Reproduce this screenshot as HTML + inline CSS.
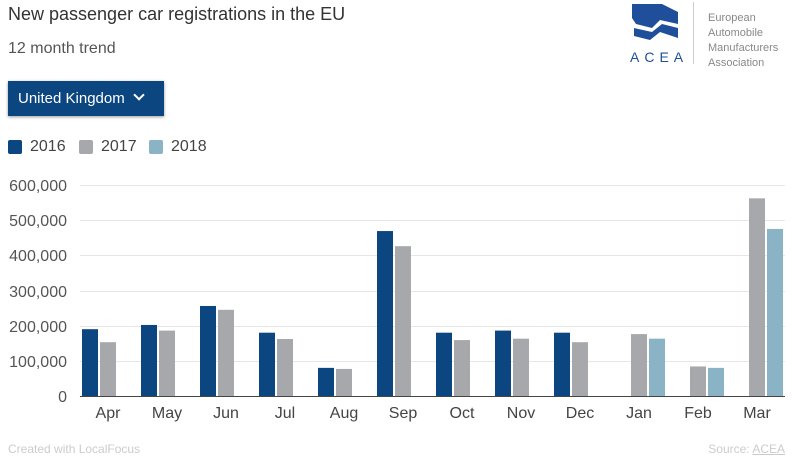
<!DOCTYPE html>
<html><head><style>
body{margin:0;width:800px;height:463px;background:#fff;font-family:"Liberation Sans",sans-serif;overflow:hidden;position:relative}
.t{position:absolute;white-space:nowrap}
</style></head><body>
<div class="t" style="left:8px;top:4px;font-size:18px;color:#333">New passenger car registrations in the EU</div>
<div class="t" style="left:8px;top:40px;font-size:16px;color:#555">12 month trend</div>
<div class="t" style="left:8px;top:81px;width:156px;height:35px;background:#0b4680;color:#fff;font-size:15px;line-height:35px;box-shadow:0 1px 3px rgba(0,0,0,.4)"><span style="margin-left:10px">United Kingdom</span><span style="margin-left:10px;display:inline-block;width:6px;height:6px;border-right:2px solid #fff;border-bottom:2px solid #fff;transform:rotate(45deg);position:relative;top:-4px"></span></div>
<div class="t" style="left:8px;top:140px;width:14px;height:14px;background:#0b4680;border-radius:2px"></div>
<div class="t" style="left:30px;top:138px;font-size:16px;color:#444">2016</div>
<div class="t" style="left:79px;top:140px;width:14px;height:14px;background:#a6a8ab;border-radius:2px"></div>
<div class="t" style="left:101px;top:138px;font-size:16px;color:#444">2017</div>
<div class="t" style="left:149px;top:140px;width:14px;height:14px;background:#8ab4c6;border-radius:2px"></div>
<div class="t" style="left:171px;top:138px;font-size:16px;color:#444">2018</div>
<svg class="t" style="left:630px;top:2px" width="50" height="45" viewBox="0 0 50 45"><path d="M2 2 L32 2 L48 10 L48 22 L30 18 L22 26 L6 22 L2 16Z" fill="#1f4f9a"/><path d="M4 26 L22 30 L32 22 L48 26 L48 36 L30 30 L20 38 L4 34Z" fill="#1f4f9a"/></svg>
<div class="t" style="left:630px;top:49px;font-size:14px;letter-spacing:5px;color:#1f4f9a">ACEA</div>
<div class="t" style="left:693px;top:2px;width:1px;height:62px;background:#ccc"></div>
<div class="t" style="left:708px;top:11px;font-size:11px;line-height:15px;color:#888">European<br>Automobile<br>Manufacturers<br>Association</div>
<svg class="t" style="left:0;top:0" width="800" height="463">
<g stroke="#e6e6e6" stroke-width="1">
<line x1="80" x2="785" y1="185.5" y2="185.5"/><line x1="80" x2="785" y1="220.5" y2="220.5"/><line x1="80" x2="785" y1="255.5" y2="255.5"/><line x1="80" x2="785" y1="291.5" y2="291.5"/><line x1="80" x2="785" y1="326.5" y2="326.5"/><line x1="80" x2="785" y1="361.5" y2="361.5"/>
</g>
<g font-size="16" fill="#555" text-anchor="end">
<text x="67" y="191">600,000</text><text x="67" y="226">500,000</text><text x="67" y="261">400,000</text><text x="67" y="297">300,000</text><text x="67" y="332">200,000</text><text x="67" y="367">100,000</text><text x="67" y="402">0</text>
</g>
<g id="bars"></g>
<line x1="80" x2="785" y1="396.5" y2="396.5" stroke="#444" stroke-width="1"/>
<g font-size="16" fill="#444" text-anchor="middle" id="lab"></g>
</svg>
<div class="t" style="left:8px;top:442px;font-size:12px;color:#ccc">Created with LocalFocus</div>
<div class="t" style="right:15px;top:442px;font-size:12px;color:#ccc">Source: <u>ACEA</u></div>
<script>
var d=[["Apr",190,153],["May",202,186],["Jun",256,245],["Jul",180,162],["Aug",80,77],["Sep",469,426],["Oct",180,159],["Nov",186,163],["Dec",180,153],["Jan",0,176,163],["Feb",0,84,80],["Mar",0,562,475]];
var c=["#0b4680","#a6a8ab","#8ab4c6"],s="",l="";
d.forEach(function(r,i){var x0=82+59*i;for(var k=0;k<3;k++){var v=r[k+1];if(!v)continue;var h=v*0.3517;s+='<rect x="'+(x0+18*k)+'" y="'+(396-h)+'" width="16" height="'+h+'" fill="'+c[k]+'"/>';}
var cx=r[3]?x0+26:(r[1]?x0+17:x0+26);l+='<text x="'+(x0+26)+'" y="418">'+r[0]+'</text>';});
document.getElementById("bars").innerHTML=s;document.getElementById("lab").innerHTML=l;
</script>
</body></html>
